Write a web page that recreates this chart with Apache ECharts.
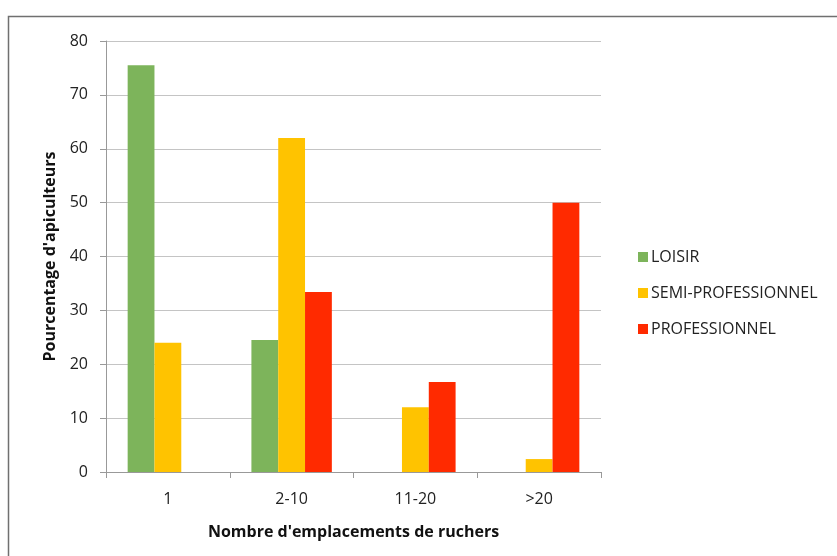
<!DOCTYPE html>
<html>
<head>
    <meta charset="utf-8">
    <title>Emplacements de ruchers</title>
    <script src="https://cdn.jsdelivr.net/npm/echarts@6/dist/echarts.min.js"></script>
    <style>
        body { margin: 0; background: #fff; }
    </style>
</head>
<body>
<div id="main" style="width: 837px;height:556px;"></div>
<script>

var categories = ['1', '2-10', '11-20', '>20'];
var seriesNames = ['LOISIR', 'SEMI-PROFESSIONNEL', 'PROFESSIONNEL'];
var loisir = [75.5, 24.5, 0, 0];
var semiPro = [24, 62, 12, 2.4];
var pro = [0, 33.4, 16.7, 50];
var colors = ['#7db45b', '#ffc300', '#ff2a00'];
var yTicks = { min: 0, max: 80, interval: 10 };

var font = '"Open Sans", "Liberation Sans", sans-serif';

option = {
    animation: false,
    textStyle: { fontFamily: font },
    // cadre gris autour du graphique
    graphic: [{
        type: 'rect',
        left: 6, top: 14,
        shape: { width: 900, height: 600 },
        style: { fill: 'none', stroke: '#707070', lineWidth: 1.5 },
        silent: true
    }],
    grid: { left: 106, right: 236, top: 41, bottom: 84 },
    legend: {
        orient: 'vertical',
        left: 633,
        top: 244,
        itemGap: 20,
        itemWidth: 10,
        itemHeight: 10,
        icon: 'rect',
        data: seriesNames,
        textStyle: { fontSize: 16, color: '#222', fontFamily: font, padding: [0, 0, 0, -2] }
    },
    xAxis: {
        type: 'category',
        data: categories,
        name: "Nombre d'emplacements de ruchers",
        nameLocation: 'middle',
        nameGap: 52,
        nameTextStyle: { fontSize: 16, fontWeight: 'bold', color: '#111', fontFamily: font },
        axisLine: { lineStyle: { color: '#999' } },
        axisTick: { show: true, length: 6, alignWithLabel: false, lineStyle: { color: '#999' } },
        axisLabel: { fontSize: 16, color: '#222', margin: 19, fontFamily: font }
    },
    yAxis: {
        type: 'value',
        min: yTicks.min,
        max: yTicks.max,
        interval: yTicks.interval,
        name: "Pourcentage d'apiculteurs",
        nameLocation: 'middle',
        nameGap: 47,
        nameTextStyle: { fontSize: 16, fontWeight: 'bold', color: '#111', fontFamily: font },
        axisLine: { show: true, lineStyle: { color: '#999' } },
        axisTick: { show: true, length: 6, lineStyle: { color: '#999' } },
        axisLabel: { fontSize: 16, color: '#222', margin: 18, fontFamily: font },
        splitLine: { lineStyle: { color: '#c4c4c4' } }
    },
    series: [
        { name: seriesNames[0], type: 'bar', data: loisir, itemStyle: { color: colors[0] }, barGap: '0%', barCategoryGap: '35%' },
        { name: seriesNames[1], type: 'bar', data: semiPro, itemStyle: { color: colors[1] }, barGap: '0%', barCategoryGap: '35%' },
        { name: seriesNames[2], type: 'bar', data: pro, itemStyle: { color: colors[2] }, barGap: '0%', barCategoryGap: '35%' }
    ]
};

var myChart = echarts.init(document.getElementById('main'));
myChart.setOption(option);

</script>
</body>
</html>
